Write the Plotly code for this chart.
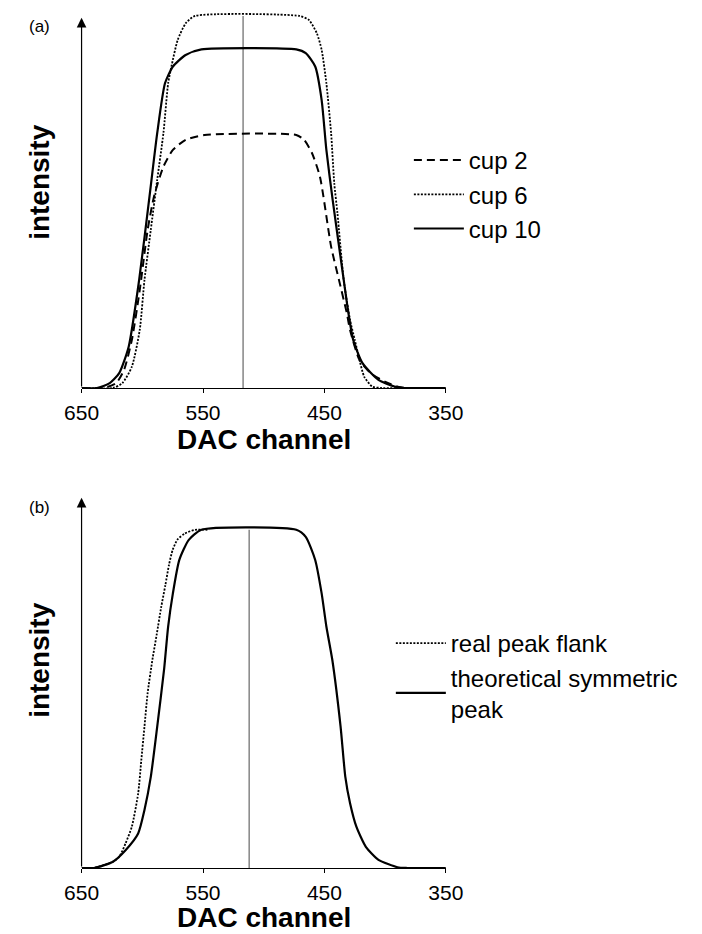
import plotly.graph_objects as go

W, H = 702, 934

# ---------------- data ----------------
# panel (a)
cup2_dac = [650, 632, 621.6, 615.1, 608.6, 602.1, 595.6, 590.1, 582.6, 574.8, 564.3, 548.7,
            473.2, 466.7, 460.2, 453.7, 444.5, 438.0, 431.5, 428.9, 421.1, 412.0, 400.2, 387.3, 350]
cup2_int = [0, 0, 1.3, 4.8, 12.9, 26.3, 42.5, 51.8, 59.5, 64.0, 66.7, 68.0,
            68.0, 66.7, 63.1, 56.8, 38.0, 29.0, 20.0, 15.6, 7.5, 4.0, 1.7, 0.2, 0]

cup6_dac = [650, 624.2, 616.4, 608.6, 602.1, 598.2, 593.0, 587.7, 582.6, 578.7, 576.0, 570.9, 564.3, 556.5,
            470.6, 462.7, 456.2, 452.3, 448.4, 444.5, 441.9, 439.3, 434.1, 428.9, 425.0, 421.1, 417.2, 410.7, 402.9, 350]
cup6_int = [0, 0, 1.3, 5.7, 15.6, 29.0, 42.5, 56.0, 68.5, 81.9, 86.4, 93.5, 98.0, 100,
            100, 98.9, 95.3, 90.9, 81.9, 68.5, 55.0, 47.0, 29.0, 18.3, 12.9, 7.5, 3.0, 0.4, 0, 0]

cup10_dac = [650, 637.3, 626.8, 619.0, 611.2, 602.6, 593.5, 587.7, 581.3, 574.8, 564.3, 551.3,
             473.2, 465.4, 457.6, 452.3, 448.4, 443.2, 434.1, 430.2, 426.3, 418.5, 405.5, 392.4, 384.6, 350]
cup10_int = [0, 0, 1.3, 4.0, 11.1, 29.0, 53.0, 68.5, 81.9, 86.4, 89.5, 91.0,
             91.0, 90.0, 86.4, 77.4, 64.0, 50.5, 29.0, 20.0, 12.9, 6.6, 2.2, 0.4, 0, 0]

marker_a_dac = [517, 517]
marker_a_int = [0, 100]

# panel (b)
real_dac = [650, 640, 624.2, 619.0, 613.8, 608.6, 603.4, 600.8, 598.2, 595.6, 591.7, 588.0,
            584.5, 581.0, 578.0, 575.0, 571.0, 565.0, 556.5, 545]
real_int = [0, 0, 1.7, 3.0, 6.6, 11.1, 20.0, 29.0, 38.0, 47.0, 55.9, 63.0,
            70.0, 76.0, 81.5, 85.5, 88.3, 89.9, 90.9, 90.9]

theo_dac = [650, 639.8, 624.2, 613.8, 603.4, 598.2, 593.0, 587.7, 582.0, 578.7, 574.8, 569.5, 561.7, 551.3,
            473.2, 465.4, 457.6, 452.3, 448.4, 443.5, 436.7, 432.8, 428.9, 423.7, 415.9, 405.5, 389.8, 382, 350]
theo_int = [0, 0, 1.7, 4.8, 9.3, 15.6, 24.5, 38.0, 53.5, 64.9, 73.8, 82.8, 88.2, 90.9,
            90.9, 89.0, 82.8, 73.8, 64.9, 55.9, 38.0, 24.5, 17.4, 11.1, 5.7, 2.2, 0.2, 0, 0]

marker_b_dac = [512, 512]
marker_b_int = [0, 90.9]

x_ticks = [650, 550, 450, 350]
x_range = [650, 350]
y_range = [0, 101.6]
arrow_tip = 99.5

FONT = "Liberation Sans, Arial, Helvetica, sans-serif"

fig = go.Figure()

def line(x, y, name, dash, width, xa, ya, legend, showlegend=True, color="black"):
    fig.add_trace(go.Scatter(
        x=x, y=y, name=name, mode="lines",
        line=dict(color=color, width=width, dash=dash, shape="spline", smoothing=0.6),
        xaxis=xa, yaxis=ya, legend=legend, showlegend=showlegend, hoverinfo="skip"))

# panel (a)
line(marker_a_dac, marker_a_int, "", "solid", 1.2, "x", "y", "legend", False, "#666666")
line(cup2_dac, cup2_int, "cup 2", "8px,5px", 2, "x", "y", "legend")
line(cup6_dac, cup6_int, "cup 6", "2px,1.5px", 1.8, "x", "y", "legend")
line(cup10_dac, cup10_int, "cup 10", "solid", 2.2, "x", "y", "legend")

# panel (b)
line(marker_b_dac, marker_b_int, "", "solid", 1.2, "x2", "y2", "legend2", False, "#666666")
line(real_dac, real_int, "real peak flank", "2px,1.5px", 1.8, "x2", "y2", "legend2")
line(theo_dac, theo_int, "theoretical symmetric<br>peak", "solid", 2.2, "x2", "y2", "legend2")

xdom = [67 / W, 451 / W]
xaxis_common = dict(range=x_range, tickvals=x_ticks, ticktext=[str(v) for v in x_ticks],
                    showline=True, linecolor="black", linewidth=1.3, ticks="outside",
                    ticklen=4, tickwidth=1.3, tickcolor="black", ticklabelstandoff=2,
                    showgrid=False, zeroline=False,
                    tickfont=dict(size=21, color="black", family=FONT), domain=xdom, fixedrange=True)
yaxis_common = dict(range=y_range, showline=False, showgrid=False, zeroline=False,
                    showticklabels=False, ticks="", fixedrange=True)

ann = []
for xa, ya, lab, laby, tity, inty in [("x", "y", "(a)", 27, 439, 182), ("x2", "y2", "(b)", 507, 917, 660)]:
    # y axis with arrow
    ann.append(dict(x=650, y=arrow_tip, ax=650, ay=0, xref=xa, yref=ya, axref=xa, ayref=ya,
                    showarrow=True, arrowhead=2, arrowsize=1.6, arrowwidth=1.2, arrowcolor="black",
                    standoff=0, text=""))
    ann.append(dict(x=23 / W, y=1 - laby / H, xref="paper", yref="paper", text=lab, showarrow=False,
                    font=dict(size=17, color="black", family=FONT), xanchor="center", yanchor="middle"))
    ann.append(dict(x=259 / W, y=1 - tity / H, xref="paper", yref="paper", text="DAC channel",
                    showarrow=False, font=dict(size=28, color="black", family=FONT, weight="bold"),
                    xanchor="center", yanchor="middle"))
    ann.append(dict(x=22 / W, y=1 - inty / H, xref="paper", yref="paper", text="intensity",
                    showarrow=False, textangle=-90,
                    font=dict(size=28, color="black", family=FONT, weight="bold"),
                    xanchor="center", yanchor="middle"))

fig.update_layout(
    width=W, height=H,
    margin=dict(l=0, r=0, t=0, b=0),
    paper_bgcolor="white", plot_bgcolor="white",
    font=dict(family=FONT, color="black"),
    xaxis=dict(**xaxis_common, anchor="y"),
    yaxis=dict(**yaxis_common, domain=[1 - 388 / H, 1 - 10 / H], anchor="x"),
    xaxis2=dict(**xaxis_common, anchor="y2"),
    yaxis2=dict(**yaxis_common, domain=[1 - 868 / H, 1 - 490 / H], anchor="x2"),
    legend=dict(x=412 / W, y=1 - 138 / H, xanchor="left", yanchor="top",
                bgcolor="rgba(0,0,0,0)", borderwidth=0, itemwidth=50,
                font=dict(size=24, color="black", family=FONT)),
    legend2=dict(x=393 / W, y=1 - 621 / H, xanchor="left", yanchor="top",
                 bgcolor="rgba(0,0,0,0)", borderwidth=0, itemwidth=50,
                 font=dict(size=24, color="black", family=FONT)),
    annotations=ann,
    showlegend=True,
)

fig.write_html("out.html")
